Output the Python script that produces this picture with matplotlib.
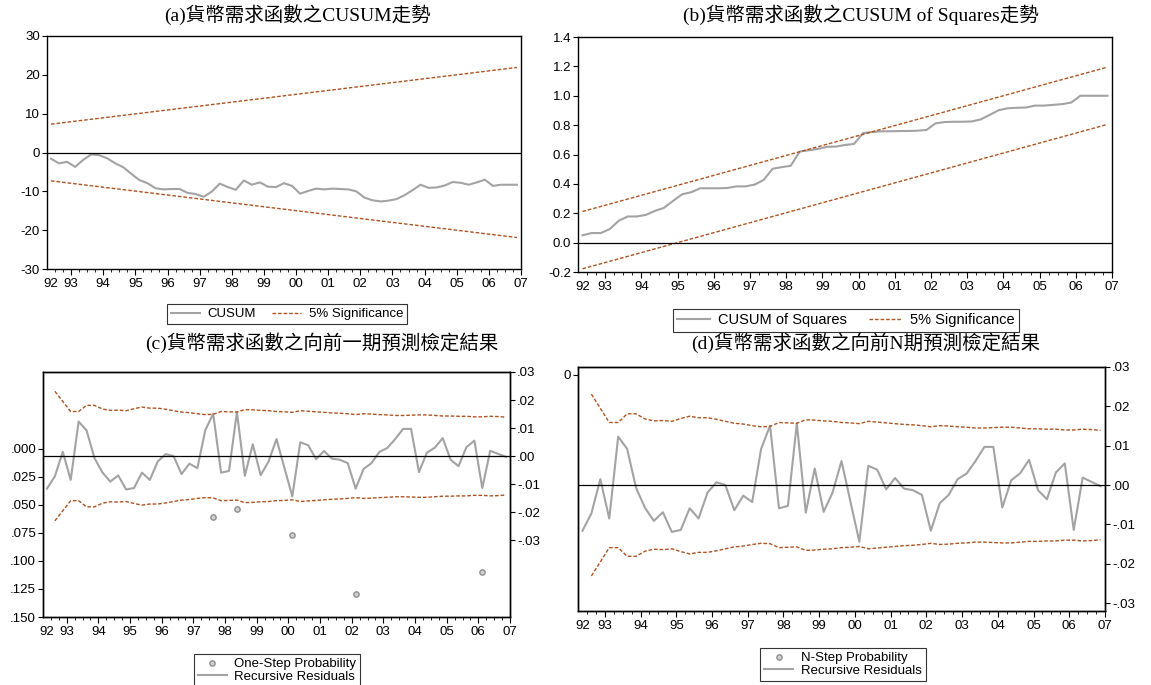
import numpy as np
import pandas as pd
import matplotlib
matplotlib.use("Agg")
import matplotlib.pyplot as plt
from matplotlib.lines import Line2D

# quarterly sample 1992Q2 - 2006Q4 (recursive estimates)
quarters = pd.period_range("1992Q2", "2006Q4", freq="Q")

cusum = [-1.6, -2.8, -2.4, -3.7, -1.9, -0.5, -0.7, -1.5, -2.8, -3.8,
         -5.5, -7.1, -7.9, -9.2, -9.5, -9.4, -9.4, -10.4, -10.7, -11.4,
         -10.1, -8.0, -8.9, -9.6, -7.2, -8.3, -7.7, -8.8, -8.9, -7.9,
         -8.6, -10.6, -9.9, -9.3, -9.5, -9.3, -9.4, -9.5, -10.0, -11.6,
         -12.3, -12.6, -12.4, -12.0, -11.0, -9.7, -8.3, -9.1, -9.0, -8.5,
         -7.6, -7.8, -8.3, -7.7, -7.0, -8.6, -8.3, -8.3, -8.3]
cusum_upper = [7.3, 21.9]     # 5% band at first / last obs
cusum_lower = [-7.3, -21.9]

cusumsq = [0.050, 0.065, 0.065, 0.092, 0.149, 0.178, 0.178, 0.189, 0.216, 0.237,
           0.284, 0.329, 0.343, 0.370, 0.370, 0.370, 0.372, 0.383, 0.383, 0.395,
           0.426, 0.503, 0.514, 0.523, 0.620, 0.629, 0.638, 0.652, 0.654, 0.665,
           0.672, 0.746, 0.753, 0.758, 0.758, 0.760, 0.760, 0.762, 0.767, 0.812,
           0.821, 0.823, 0.823, 0.825, 0.839, 0.870, 0.902, 0.915, 0.918, 0.920,
           0.933, 0.933, 0.938, 0.943, 0.954, 1.000, 1.000, 1.000, 1.000]
cusumsq_upper = [0.212, 1.195]
cusumsq_lower = [-0.178, 0.805]

resid = [-0.0116, -0.0072, 0.0015, -0.0085, 0.0123, 0.0092, -0.0007, -0.0058, -0.0091, -0.0069,
         -0.0119, -0.0114, -0.0059, -0.0085, -0.0019, 0.0007, 0.0000, -0.0064, -0.0027, -0.0043,
         0.0092, 0.0151, -0.0059, -0.0053, 0.0157, -0.0070, 0.0042, -0.0068, -0.0019, 0.0061,
         -0.0042, -0.0144, 0.0049, 0.0039, -0.0011, 0.0018, -0.0009, -0.0013, -0.0025, -0.0116,
         -0.0046, -0.0025, 0.0015, 0.0029, 0.0061, 0.0097, 0.0097, -0.0057, 0.0012, 0.0030,
         0.0064, -0.0013, -0.0036, 0.0032, 0.0055, -0.0114, 0.0019, 0.0008, -0.0003]
# two standard errors, from the 2nd observation on
se2 = [0.0231, 0.0195, 0.0159, 0.0159, 0.0181, 0.0181, 0.0168, 0.0163, 0.0164, 0.0162,
       0.0169, 0.0175, 0.0171, 0.0171, 0.0167, 0.0162, 0.0157, 0.0155, 0.0151, 0.0148,
       0.0149, 0.0159, 0.0158, 0.0157, 0.0166, 0.0165, 0.0163, 0.0162, 0.0159, 0.0158,
       0.0156, 0.0162, 0.0160, 0.0158, 0.0156, 0.0154, 0.0153, 0.0151, 0.0148, 0.0151,
       0.0150, 0.0148, 0.0147, 0.0145, 0.0145, 0.0146, 0.0147, 0.0147, 0.0145, 0.0143,
       0.0143, 0.0142, 0.0142, 0.0140, 0.0140, 0.0142, 0.0141, 0.0139]

# one-step probabilities below .15
prob_quarters = ["1997Q3", "1998Q2", "2000Q1", "2002Q1", "2006Q1"]
prob_values = [0.0612, 0.0541, 0.0766, 0.1295, 0.1099]

year_labels = ["92"] + ["%02d" % (y % 100) for y in range(1993, 2008)]

titles = ["(a)貨幣需求函數之CUSUM走勢",
          "(b)貨幣需求函數之CUSUM of Squares走勢",
          "(c)貨幣需求函數之向前一期預測檢定結果",
          "(d)貨幣需求函數之向前N期預測檢定結果"]

GRAY = "#a3a3a3"
BAND = "#b0521f"
DASH = (0, (2.6, 1.4))
W, H = 1151, 685

plt.rcParams["font.family"] = ["Liberation Sans", "DejaVu Sans"]
plt.rcParams["axes.linewidth"] = 1.0
plt.rcParams["axes.unicode_minus"] = False

fig = plt.figure(figsize=(W / 100, H / 100), dpi=100)


def qpos(periods):
    p = pd.PeriodIndex(periods, freq="Q")
    return np.asarray((p.year - 1992) * 4 + (p.quarter - 1) + 0.5, dtype=float)


x = qpos(quarters)


def make_axes(l, t, r, b):
    return fig.add_axes([l / W, 1 - b / H, (r - l) / W, (b - t) / H])


def time_axis(ax):
    ax.set_xlim(1, 60)
    ax.set_xticks([1.5] + list(range(4, 61, 4)))
    ax.set_xticklabels(year_labels, fontsize=9.5)
    ax.set_xticks(range(2, 60), minor=True)
    ax.tick_params(axis="x", which="major", length=4, pad=2.5)
    ax.tick_params(axis="x", which="minor", length=2.5)
    ax.xaxis.get_major_ticks()[0].tick1line.set_visible(False)


def title(xc, yc, s):
    fig.text(xc / W, 1 - yc / H, s, ha="center", va="center", fontsize=14,
             family=["Liberation Serif", "Noto Sans CJK TC"])


def legend(handles, labels, xc, yt, ncol, size=9.5, colsp=1.2):
    lg = fig.legend(handles, labels, loc="upper center", bbox_to_anchor=(xc / W, 1 - yt / H),
                    ncol=ncol, fontsize=size, frameon=True, fancybox=False, handlelength=2.2,
                    borderpad=0.3, labelspacing=0.05, columnspacing=colsp, handletextpad=0.6,
                    borderaxespad=0)
    lg.get_frame().set_edgecolor("black")
    lg.get_frame().set_linewidth(0.8)


# (a) CUSUM
ax = make_axes(47, 36, 521, 269)
ax.plot(x, cusum, color=GRAY, lw=1.5)
ax.plot(x[[0, -1]], cusum_upper, color=BAND, lw=1.0, ls=DASH)
ax.plot(x[[0, -1]], cusum_lower, color=BAND, lw=1.0, ls=DASH)
ax.axhline(0, color="black", lw=0.9)
ax.set_ylim(-30, 30)
ax.set_yticks(range(-30, 31, 10))
ax.tick_params(axis="y", labelsize=9.5, length=3.5, pad=1.5)
time_axis(ax)
title(297, 15, titles[0])
legend([Line2D([], [], color=GRAY, lw=1.5), Line2D([], [], color=BAND, lw=1.0, ls=DASH)],
       ["CUSUM", "5% Significance"], 287, 304, 2)

# (b) CUSUM of squares
ax = make_axes(578, 37, 1112, 272)
ax.plot(x, cusumsq, color=GRAY, lw=1.5)
ax.plot(x[[0, -1]], cusumsq_upper, color=BAND, lw=1.0, ls=DASH)
ax.plot(x[[0, -1]], cusumsq_lower, color=BAND, lw=1.0, ls=DASH)
ax.axhline(0, color="black", lw=0.9)
ax.set_ylim(-0.2, 1.4)
ax.set_yticks(np.arange(-0.2, 1.41, 0.2))
ax.set_yticklabels(["-0.2", "0.0", "0.2", "0.4", "0.6", "0.8", "1.0", "1.2", "1.4"])
ax.tick_params(axis="y", labelsize=9.5, length=3.5, pad=1.5)
time_axis(ax)
title(861, 15, titles[1])
legend([Line2D([], [], color=GRAY, lw=1.5), Line2D([], [], color=BAND, lw=1.0, ls=DASH)],
       ["CUSUM of Squares", "5% Significance"], 846, 309, 2, size=10.5, colsp=1.5)

res_ticks = [-0.03, -0.02, -0.01, 0.0, 0.01, 0.02, 0.03]
res_labels = ["-.03", "-.02", "-.01", ".00", ".01", ".02", ".03"]
band = np.array(se2)


def residual_panel(l, t, r, b, ylow):
    axl = make_axes(l, t, r, b)
    axr = axl.twinx()
    axr.plot(x, resid, color=GRAY, lw=1.5)
    axr.plot(x[1:], band, color=BAND, lw=1.0, ls=DASH)
    axr.plot(x[1:], -band, color=BAND, lw=1.0, ls=DASH)
    axr.axhline(0, color="black", lw=0.9)
    axr.set_ylim(ylow, 0.03)
    axr.set_yticks(res_ticks)
    axr.set_yticklabels(res_labels)
    axr.tick_params(axis="y", labelsize=9.5, length=3.5, pad=1.5)
    axl.tick_params(axis="y", labelsize=9.5, length=3.5, pad=1.5)
    time_axis(axl)
    return axl, axr


marker = dict(marker="o", ms=3.8, mfc="#d0d0d0", mec="#8f8f8f", mew=1.0, ls="none")

# (c) one-step forecast test
axl, axr = residual_panel(43, 372, 510, 617, -0.0574)
axl.plot(qpos(prob_quarters), prob_values, **marker)
axl.set_ylim(0.150, -0.0683)
axl.set_yticks([0.0, 0.025, 0.05, 0.075, 0.1, 0.125, 0.15])
axl.set_yticklabels([".000", ".025", ".050", ".075", ".100", ".125", ".150"])
title(322, 343, titles[2])
legend([Line2D([], [], **marker), Line2D([], [], color=GRAY, lw=1.5)],
       ["One-Step Probability", "Recursive Residuals"], 277, 654, 1)

# (d) N-step forecast test
axl, axr = residual_panel(578, 367, 1105, 611, -0.032)
axl.set_ylim(1.0, -0.0325)
axl.set_yticks([0])
axl.set_yticklabels(["0"])
title(866, 343, titles[3])
legend([Line2D([], [], **marker), Line2D([], [], color=GRAY, lw=1.5)],
       ["N-Step Probability", "Recursive Residuals"], 843, 648, 1)

fig.savefig("out.png", dpi=100)
